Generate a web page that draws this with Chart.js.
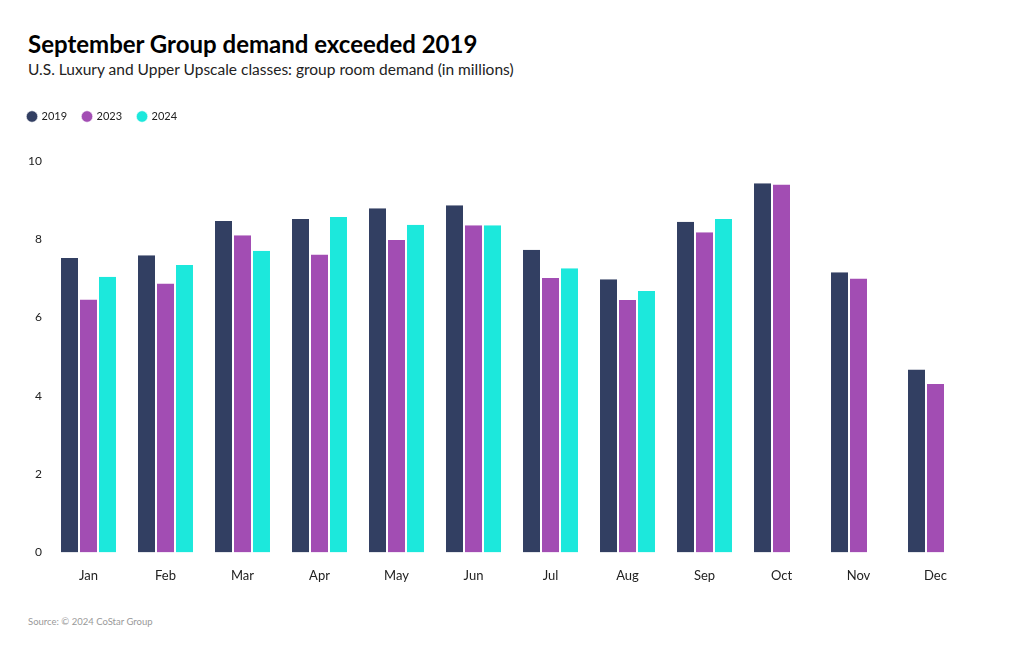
<!DOCTYPE html>
<html>
<head>
<meta charset="utf-8">
<script src="https://cdn.jsdelivr.net/npm/chart.js@4.4.1/dist/chart.umd.min.js"></script>
<style>
  body { margin: 0; background: #fff; font-family: Lato, "Noto Sans", sans-serif; }
  #title { position: absolute; left: 28px; top: 29px; font-size: 24px; font-weight: bold; color: #000; }
  #subtitle { position: absolute; left: 28px; top: 60px; font-size: 15.5px; color: #222; }
  #source { position: absolute; left: 28px; top: 616px; font-size: 9.5px; color: #999; }
  #wrap { position: absolute; left: 0; top: 95px; width: 1000px; height: 505px; }
</style>
</head>
<body>
<div id="title">September Group demand exceeded 2019</div>
<div id="subtitle">U.S. Luxury and Upper Upscale classes: group room demand (in millions)</div>
<div id="wrap"><canvas id="chart"></canvas></div>
<div id="source">Source: © 2024 CoStar Group</div>
<script>
var months = ["Jan", "Feb", "Mar", "Apr", "May", "Jun", "Jul", "Aug", "Sep", "Oct", "Nov", "Dec"];
var demand2019 = [7.52, 7.59, 8.47, 8.52, 8.79, 8.87, 7.73, 6.98, 8.45, 9.43, 7.16, 4.67];
var demand2023 = [6.46, 6.87, 8.10, 7.61, 7.98, 8.36, 7.01, 6.45, 8.18, 9.40, 7.00, 4.30];
var demand2024 = [7.04, 7.34, 7.71, 8.57, 8.37, 8.36, 7.26, 6.68, 8.52, null, null, null];
var yTicks = [0, 2, 4, 6, 8, 10];

var colors = ["#323f62", "#a24db3", "#1ce8dc"];

function ds(label, data, color) {
    return {
        label: label,
        data: data,
        backgroundColor: color,
        borderColor: "#ffffff",
        borderWidth: { left: 1, right: 1 },
        borderSkipped: false,
        barPercentage: 1,
        categoryPercentage: 0.74
    };
}

// push the plot down below the legend
var legendGap = {
    id: "legendGap",
    beforeInit: function (chart) {
        var fit = chart.legend.fit;
        chart.legend.fit = function () {
            fit.call(this);
            this.height += 29;
        };
    }
};

var ctx = document.getElementById("chart");
new Chart(ctx, {
    type: "bar",
    data: {
        labels: months,
        datasets: [
            ds("2019", demand2019, colors[0]),
            ds("2023", demand2023, colors[1]),
            ds("2024", demand2024, colors[2])
        ]
    },
    options: {
        responsive: true,
        maintainAspectRatio: false,
        animation: false,
        layout: { padding: { left: 12, right: 26, top: 0, bottom: 8 } },
        plugins: {
            legend: {
                position: "top",
                align: "start",
                labels: {
                    usePointStyle: true,
                    pointStyle: "circle",
                    boxWidth: 8,
                    boxHeight: 8,
                    padding: 16,
                    color: "#222",
                    font: { family: "Lato, 'Noto Sans', sans-serif", size: 11 }
                }
            },
            tooltip: { enabled: false }
        },
        scales: {
            x: {
                grid: { display: false },
                border: { display: false },
                ticks: {
                    color: "#222",
                    padding: 8,
                    font: { family: "Lato, 'Noto Sans', sans-serif", size: 13 }
                }
            },
            y: {
                min: 0,
                max: 10,
                afterBuildTicks: function (scale) {
                    scale.ticks = yTicks.map(function (v) { return { value: v }; });
                },
                afterFit: function (scale) { scale.width = 38; },
                grid: { display: false, drawTicks: false },
                border: { display: false },
                ticks: {
                    color: "#222",
                    padding: 8,
                    font: { family: "Lato, 'Noto Sans', sans-serif", size: 12 }
                }
            }
        }
    },
    plugins: [legendGap]
});
</script>
</body>
</html>
